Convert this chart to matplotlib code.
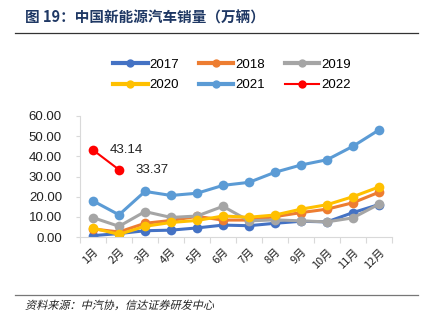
import matplotlib
matplotlib.use("Agg")
import matplotlib.pyplot as plt
from matplotlib.lines import Line2D
from matplotlib.textpath import TextPath
from matplotlib.patches import PathPatch
from matplotlib.font_manager import FontProperties
from matplotlib.transforms import Affine2D

plt.rcParams['font.family'] = ['Liberation Sans', 'Noto Sans CJK SC', 'DejaVu Sans']

months = ["1月", "2月", "3月", "4月", "5月", "6月", "7月", "8月", "9月", "10月", "11月", "12月"]
s2017 = [0.68, 1.7, 3.1, 3.4, 4.5, 5.9, 5.6, 6.8, 7.8, 7.5, 12.1, 16.1]
s2018 = [4.0, 2.5, 6.8, 8.2, 10.2, 8.4, 8.4, 10.1, 12.1, 13.8, 17.0, 22.2]
s2019 = [9.6, 5.3, 12.6, 9.7, 10.4, 15.2, 8.0, 8.5, 8.0, 7.5, 9.5, 16.3]
s2020 = [4.4, 1.3, 5.3, 7.2, 8.2, 10.4, 9.8, 10.9, 13.8, 16.0, 20.0, 24.8]
s2021 = [17.9, 11.0, 22.6, 20.6, 21.7, 25.6, 27.1, 32.1, 35.7, 38.3, 45.0, 53.1]
s2022 = [43.14, 33.37]
series_names = ["2017", "2018", "2019", "2020", "2021", "2022"]
colors = ["#4472C4", "#ED7D31", "#A5A5A5", "#FFC000", "#5B9BD5", "#FF0000"]
yticks = [0, 10, 20, 30, 40, 50, 60]

fig = plt.figure(figsize=(4.31, 3.22), dpi=100)
ax = fig.add_axes([80/431, 1-237/322, 312/431, 121/322])

xs = list(range(1, 13))
all_series = [s2017, s2018, s2019, s2020, s2021, s2022]
for name, data, c in zip(series_names, all_series, colors):
    lw = 2.2 if name != "2022" else 1.5
    ax.plot(xs[:len(data)], data, color=c, lw=lw, marker='o', markersize=7,
            markeredgewidth=0, label=name, solid_capstyle='round')

for i, v in enumerate(s2022):
    ax.annotate(f"{v:.2f}", (xs[i], v), xytext=(12, 0), textcoords='offset points',
                va='center', ha='left', fontsize=9.5, color='#222222')

ax.set_xlim(0.5, 12.5)
ax.set_ylim(0, 60)
ax.set_yticks(yticks)
ax.set_yticklabels([f"{v:.2f}" for v in yticks], fontsize=9.5, color='#222222')
ax.set_xticks(xs)
ax.set_xticklabels(months, rotation=45, ha='right', rotation_mode='anchor',
                   fontsize=8, color='#222222', family=['Noto Sans CJK SC'])
ax.tick_params(axis='x', length=0, pad=7)
ax.set_xticks([x + 0.5 for x in range(0, 13)], minor=True)
ax.tick_params(axis='x', which='minor', length=4, color='#D9D9D9', width=0.8)
ax.tick_params(axis='y', length=3, color='#D9D9D9', width=0.8, pad=10)
for sp in ['top', 'right']:
    ax.spines[sp].set_visible(False)
for sp in ['left', 'bottom']:
    ax.spines[sp].set_color('#D9D9D9')
    ax.spines[sp].set_linewidth(0.8)

handles = [Line2D([0], [0], color=c, lw=3 if n != "2022" else 1.5, marker='o', markersize=6,
                  markeredgewidth=0) for n, c in zip(series_names, colors)]
order = [0, 3, 1, 4, 2, 5]
fig.legend([handles[i] for i in order], [series_names[i] for i in order], loc='center',
           bbox_to_anchor=(232/431, 1-75/322),
           ncol=3, frameon=False, fontsize=9.5, handlelength=2.6, columnspacing=1.5,
           handletextpad=0.15, labelspacing=0.6)

fig.text(25/431, 1-18/322, "图 19：中国新能源汽车销量（万辆）", fontsize=10.5, fontweight='bold',
         color='#1F3864', va='center', ha='left', family=['Noto Sans CJK SC'])
fig.add_artist(Line2D([15/431, 418/431], [1-33/322, 1-33/322], color='#333333', lw=0.9))
fig.add_artist(Line2D([15/431, 418/431], [1-295/322, 1-295/322], color='#777777', lw=0.9))

src = "资料来源：中汽协，信达证券研发中心"
tp = TextPath((0, 0), src, size=8, prop=FontProperties(family='Noto Sans CJK SC'))
tr = Affine2D().skew_deg(14, 0).scale(1/72.).translate(25/100, (322-309)/100) + fig.dpi_scale_trans
fig.add_artist(PathPatch(tp, transform=tr, color='#222222', lw=0))

fig.savefig("out.png", dpi=100)
